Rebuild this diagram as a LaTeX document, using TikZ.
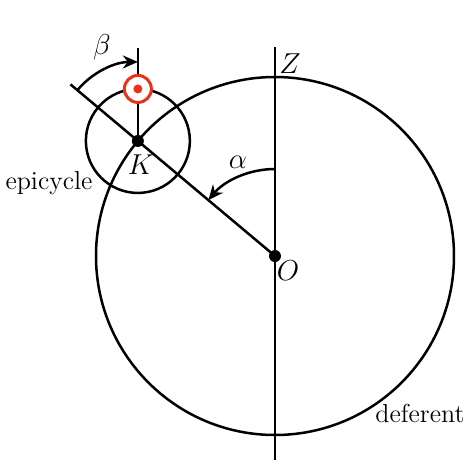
\documentclass[tikz,border=0pt]{standalone}
\usetikzlibrary{arrows.meta,calc}
\definecolor{markred}{RGB}{235,50,25}
\begin{document}
\begin{tikzpicture}[x=0.5pt,y=0.5pt,>={Stealth[length=7.5pt,width=6.5pt]}, line width=1.25pt,
  font=\fontsize{13}{15}\selectfont, lbl/.style={font=\fontsize{14.5}{16}\selectfont}]
  \useasboundingbox (-275,-207) rectangle (193,256);
  \coordinate (O) at (0,0);
  \coordinate (K) at (140:179);
  \coordinate (Zt) at (0,209);
  \coordinate (Zb) at (0,-204);
  \coordinate (B) at (140:267);
  \coordinate (Kt) at ($(K)+(0,93)$);
  \coordinate (T) at ($(K)+(0,52)$);
  % deferent and epicycle
  \draw (O) circle (179);
  \draw (K) circle (52);
  \draw (Zb)--(Zt);
  \draw (O)--(B);
  \draw (K)--(Kt);
  % angles
  \draw[->] (0,87) arc (90:140:87);
  \node[lbl] (alpha) at (-37,94) {$\alpha$};
  \draw[->] ([shift={(140:79)}]K) arc (140:90:79);
  \node[lbl] (beta) at ($(K)+(-36,94)$) {$\beta$};
  % planet
  \draw[markred, fill=white, line width=1.5pt] (T) circle (13.5);
  \fill[markred] (T) circle (4.5);
  \fill (K) circle (6);
  \fill (O) circle (6);
  \node[lbl] (klab) at ($(K)+(3,-24)$) {$K$};
  \node[lbl] (olab) at (13,-15) {$O$};
  \node[lbl] (zlab) at (15,192) {$Z$};
  \node (epi) at (-226,73) {epicycle};
  \node (def) at (145,-157) {deferent};
\end{tikzpicture}
\end{document}
